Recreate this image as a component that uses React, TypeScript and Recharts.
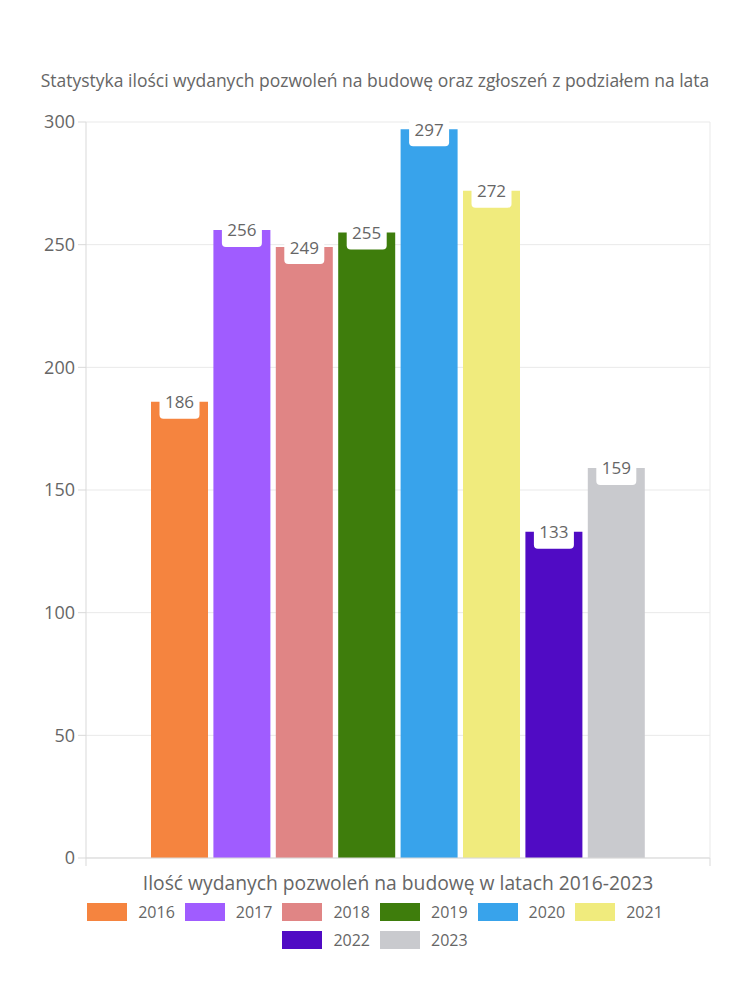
import React from "react";
import { BarChart, Bar, XAxis, YAxis, CartesianGrid, Legend, LabelList } from "recharts";

const years = ["2016", "2017", "2018", "2019", "2020", "2021", "2022", "2023"];
const permits = [186, 256, 249, 255, 297, 272, 133, 159];
const colors = ["#F5843F", "#A05CFF", "#E08585", "#3E7D0C", "#38A3EB", "#F0EB7D", "#500BC4", "#C9CACE"];
const yTicks = [0, 50, 100, 150, 200, 250, 300];

const title = "Statystyka ilości wydanych pozwoleń na budowę oraz zgłoszeń z podziałem na lata";
const xLabel = "Ilość wydanych pozwoleń na budowę w latach 2016-2023";

const row: Record<string, string | number> = { name: xLabel };
years.forEach((y, i) => {
  row[y] = permits[i];
});
const data = [row];

const FONT = "'Open Sans', sans-serif";
const TEXT = "#666666";
const AXIS = "#d9d9d9";

const ValueTag = (props: any) => {
  const { x, y, width, value } = props;
  const cx = x + width / 2;
  return (
    <g>
      <rect x={cx - 20} y={y - 12} width={40} height={29} rx={4} ry={4} fill="#ffffff" />
      <text x={cx} y={y} textAnchor="middle" dominantBaseline="central" fill={TEXT} fontSize={17} fontFamily={FONT}>
        {value}
      </text>
    </g>
  );
};

// tick marks at both ends of the single category band
const EdgeTicks = (props: any) => {
  const { x, width } = props;
  const top = props.y - 5;
  return (
    <g>
      <line x1={x - width / 2} x2={x - width / 2} y1={top} y2={top + 8} stroke={AXIS} />
      <line x1={x + width / 2} x2={x + width / 2} y1={top} y2={top + 8} stroke={AXIS} />
    </g>
  );
};

const renderLegend = () => (
  <div
    style={{
      width: 600,
      margin: "0 auto",
      display: "flex",
      flexWrap: "wrap",
      justifyContent: "center",
      columnGap: 10,
      rowGap: 4,
      fontFamily: FONT,
      fontSize: 16,
      color: TEXT,
    }}
  >
    {years.map((y, i) => (
      <div key={y} style={{ display: "flex", alignItems: "center", height: 24 }}>
        <span style={{ display: "inline-block", width: 40, height: 18, background: colors[i] }} />
        <span style={{ marginLeft: 11 }}>{y}</span>
      </div>
    ))}
  </div>
);

export default function App() {
  return (
    <div style={{ position: "relative", width: 750, height: 1000, margin: -8, background: "#fff" }}>
      <div
        style={{
          position: "absolute",
          top: 68,
          left: 0,
          width: 750,
          textAlign: "center",
          lineHeight: "24px",
          fontFamily: FONT,
          fontSize: 17.5,
          color: TEXT,
        }}
      >
        {title}
      </div>
      <BarChart
        width={750}
        height={1000}
        data={data}
        margin={{ top: 122, right: 0, left: 0, bottom: 0 }}
        barCategoryGap={65}
        barGap={5.4}
      >
        <CartesianGrid stroke="#e9e9e9" vertical={false} />
        <XAxis
          dataKey="name"
          tickLine={false}
          tickSize={0}
          tickMargin={5}
          tick={EdgeTicks}
          axisLine={{ stroke: AXIS }}
          height={42}
          label={{ value: xLabel, position: "insideBottom", offset: 10, fill: TEXT, fontSize: 19.3, fontFamily: FONT }}
        />
        <YAxis
          width={86}
          domain={[0, 300]}
          ticks={yTicks}
          tickSize={8}
          tickMargin={3}
          axisLine={{ stroke: AXIS }}
          tickLine={{ stroke: AXIS }}
          tick={{ fill: TEXT, fontSize: 18, fontFamily: FONT }}
        />
        <YAxis
          yAxisId="right"
          orientation="right"
          width={40}
          domain={[0, 300]}
          ticks={yTicks}
          tick={false}
          tickLine={false}
          axisLine={{ stroke: "#e9e9e9" }}
        />
        <Legend verticalAlign="bottom" height={100} wrapperStyle={{ left: 0, width: 750, bottom: 0 }} content={renderLegend} />
        {years.map((y, i) => (
          <Bar key={y} dataKey={y} fill={colors[i]} isAnimationActive={false}>
            <LabelList dataKey={y} content={ValueTag} />
          </Bar>
        ))}
      </BarChart>
    </div>
  );
}
